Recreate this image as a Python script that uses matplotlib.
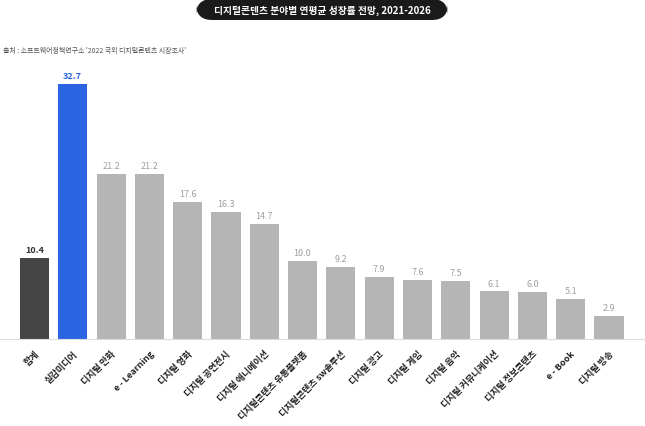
import matplotlib.pyplot as plt
from matplotlib.patches import FancyBboxPatch

plt.rcParams['font.family'] = ['Noto Sans CJK KR', 'DejaVu Sans']

categories = ['합계', '실감미디어', '디지털 만화', 'e - Learning', '디지털 영화', '디지털 공연전시',
              '디지털 애니메이션', '디지털콘텐츠 유통플랫폼', '디지털콘텐츠 sw솔루션', '디지털 광고',
              '디지털 게임', '디지털 음악', '디지털 커뮤니케이션', '디지털 정보콘텐츠', 'e - Book', '디지털 방송']
values = [10.4, 32.7, 21.2, 21.2, 17.6, 16.3, 14.7, 10.0, 9.2, 7.9, 7.6, 7.5, 6.1, 6.0, 5.1, 2.9]

title = '디지털콘텐츠 분야별 연평균 성장률 전망, 2021-2026'
source = "출처 : 소프트웨어정책연구소 '2022 국외 디지털콘텐츠 시장조사'"

colors = ['#454545', '#2a64e3'] + ['#b5b5b5'] * (len(values) - 2)
label_colors = ['#333333', '#2a64e3'] + ['#a0a0a0'] * (len(values) - 2)

fig = plt.figure(figsize=(6.45, 4.27), dpi=100)
ax = fig.add_axes([0, 87 / 427, 1, 280 / 427])

x = range(len(values))
ax.bar(x, values, width=0.76, color=colors, zorder=2)
for i, v in enumerate(values):
    weight = 'bold' if i < 2 else 'normal'
    ax.text(i, v + 0.5, f'{v:.1f}', ha='center', va='bottom', fontsize=6.5,
            color=label_colors[i], fontweight=weight)

ax.set_xlim(-0.9, 15.94)
ax.set_ylim(0, 35.9)
ax.set_xticks(list(x))
ax.set_xticklabels(categories, rotation=45, ha='right', rotation_mode='anchor',
                   fontsize=6.5, fontweight='bold', color='#222222')
ax.tick_params(axis='x', length=0, pad=7)
ax.set_yticks([])
for side in ['top', 'right', 'left']:
    ax.spines[side].set_visible(False)
ax.spines['bottom'].set_color('#dddddd')
ax.patch.set_alpha(0)

# title pill
pill = FancyBboxPatch((196 / 645, 406 / 427), 252 / 645, 21 / 427,
                      boxstyle='round,pad=0,rounding_size=0.025',
                      transform=fig.transFigure, facecolor='#1a1a1a', edgecolor='none',
                      mutation_aspect=645 / 427)
fig.patches.append(pill)
fig.text(322 / 645, 416 / 427, title, ha='center', va='center', fontsize=7,
         fontweight='bold', color='white')
fig.text(3 / 645, 376 / 427, source, ha='left', va='center', fontsize=5, color='#555555')

fig.savefig('out.png', dpi=100)
